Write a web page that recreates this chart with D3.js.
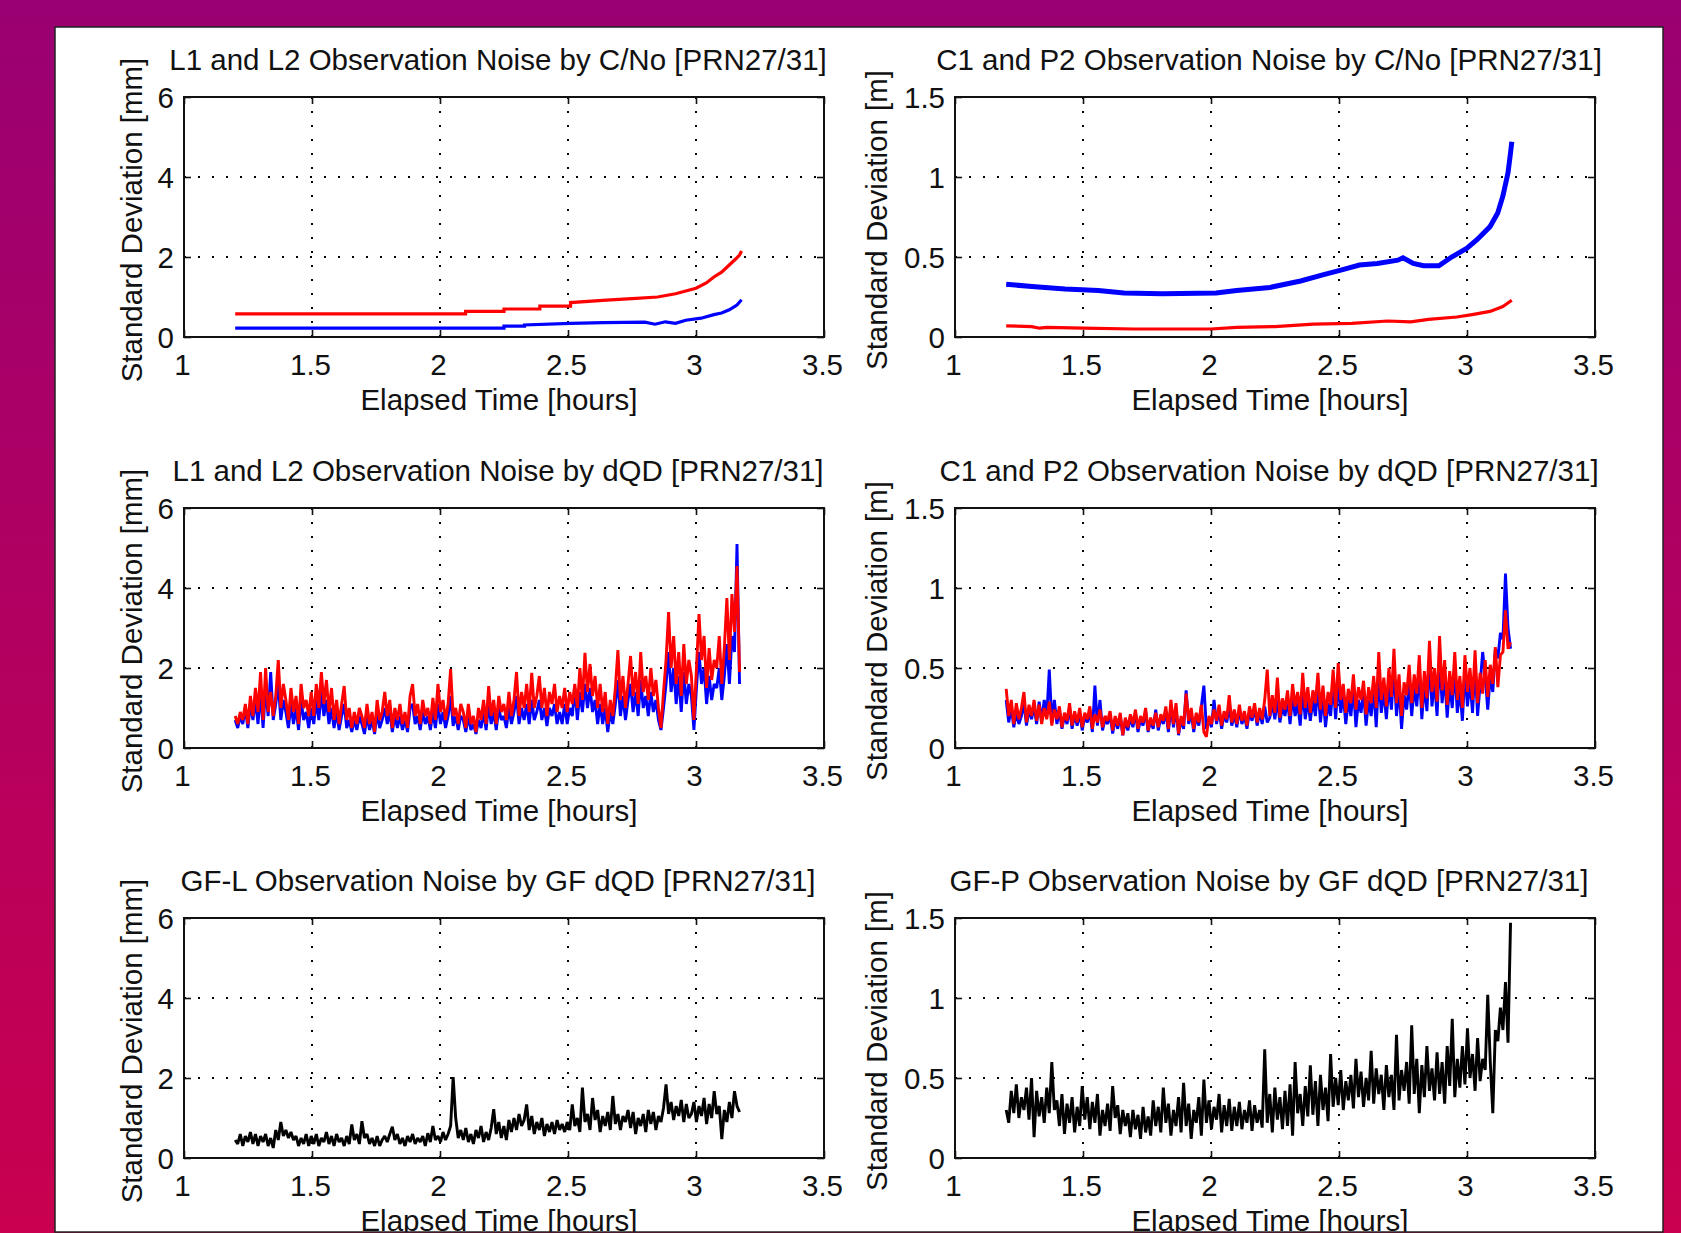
<!DOCTYPE html>
<html>
<head>
<meta charset="utf-8">
<script src="https://cdn.jsdelivr.net/npm/d3@7"></script>
<style>
  body { margin: 0; }
  svg { display: block; }
  text { font-family: "Liberation Sans", Arial, sans-serif; font-size: 29.5px; fill: #111; }
</style>
</head>
<body>
<div id="chart"></div>
<script>

// ---- tick values and labels
const xTicks = [1, 1.5, 2, 2.5, 3, 3.5];
const yTicksMm = [0, 2, 4, 6];
const yTicksM = [0, 0.5, 1, 1.5];
const xLabel = "Elapsed Time [hours]";
const yLabelMm = "Standard Deviation [mm]";
const yLabelM = "Standard Deviation [m]";
const titles = [
  "L1 and L2 Observation Noise by C/No [PRN27/31]",
  "C1 and P2 Observation Noise by C/No [PRN27/31]",
  "L1 and L2 Observation Noise by dQD [PRN27/31]",
  "C1 and P2 Observation Noise by dQD [PRN27/31]",
  "GF-L Observation Noise by GF dQD [PRN27/31]",
  "GF-P Observation Noise by GF dQD [PRN27/31]"
];

// ---- C/No panels (hours, value)
const cnoLRedT = [1.2, 2.1, 2.1, 2.25, 2.25, 2.39, 2.39, 2.51, 2.51, 2.65, 2.75, 2.85, 2.92, 2.96, 3.0, 3.04, 3.07, 3.1, 3.13, 3.155, 3.17, 3.178];
const cnoLRedV = [0.58, 0.58, 0.64, 0.64, 0.7, 0.7, 0.77, 0.77, 0.86, 0.92, 0.96, 1.0, 1.08, 1.15, 1.22, 1.35, 1.5, 1.62, 1.8, 1.95, 2.05, 2.15];
const cnoLBlueT = [1.2, 2.25, 2.25, 2.33, 2.33, 2.51, 2.64, 2.8, 2.84, 2.88, 2.92, 2.96, 3.02, 3.07, 3.1, 3.13, 3.16, 3.178];
const cnoLBlueV = [0.22, 0.22, 0.27, 0.27, 0.3, 0.34, 0.36, 0.37, 0.32, 0.38, 0.34, 0.42, 0.47, 0.56, 0.6, 0.68, 0.8, 0.93];

const cnoPBlueT = [1.2, 1.3, 1.43, 1.56, 1.66, 1.81, 2.02, 2.1, 2.23, 2.35, 2.44, 2.5, 2.58, 2.65, 2.73, 2.75, 2.79, 2.83, 2.89, 2.94, 3.0, 3.04, 3.09, 3.12, 3.14, 3.16, 3.17, 3.175];
const cnoPBlueV = [0.33, 0.315, 0.3, 0.29, 0.275, 0.27, 0.275, 0.29, 0.31, 0.35, 0.39, 0.415, 0.45, 0.46, 0.48, 0.495, 0.46, 0.445, 0.445, 0.5, 0.555, 0.61, 0.69, 0.775, 0.88, 1.025, 1.15, 1.22];
const cnoPRedT = [1.2, 1.3, 1.33, 1.36, 1.5, 1.7, 2.0, 2.1, 2.25, 2.4, 2.55, 2.69, 2.78, 2.85, 2.96, 3.02, 3.09, 3.14, 3.175];
const cnoPRedV = [0.07, 0.065, 0.055, 0.06, 0.055, 0.05, 0.05, 0.06, 0.065, 0.08, 0.085, 0.1, 0.095, 0.11, 0.125, 0.14, 0.16, 0.19, 0.23];

// ---- dQD panels: sampled every dqdStep hours from dqdStart
const dqdStart = 1.2, dqdStep = 0.0099;

const dqdLRed = [
  0.8,0.6,0.9,0.7,1.1,0.6,1.3,0.8,1.5,0.9,
  1.9,0.7,2.0,0.9,1.4,0.8,1.3,2.2,1.0,1.6,
  1.2,0.7,1.5,0.9,1.3,0.6,1.6,1.0,1.2,0.8,
  1.4,0.8,1.6,1.0,1.9,1.1,1.7,0.9,1.5,0.7,
  1.2,0.6,1.1,1.55,0.7,1.0,0.5,0.9,0.6,1.0,
  0.8,0.5,1.1,0.6,0.9,0.4,1.2,0.7,0.9,1.4,
  0.8,1.2,0.5,1.0,0.7,1.1,0.6,0.9,0.5,1.3,
  1.6,0.8,1.1,0.6,1.2,0.8,1.0,0.6,1.25,0.7,
  1.6,0.9,1.2,0.7,1.1,1.97,0.8,1.0,0.6,1.1,
  0.9,0.5,1.1,0.6,0.8,0.4,1.0,0.7,1.2,0.6,
  1.55,0.8,1.2,0.6,1.3,0.9,1.1,0.7,1.4,0.8,
  1.2,1.9,0.8,1.4,1.0,1.6,0.9,1.88,1.0,1.3,
  1.8,1.0,1.5,0.8,1.4,1.1,1.6,0.9,1.3,1.0,
  1.5,0.9,1.4,1.1,1.6,1.0,2.0,1.2,2.38,1.4,
  2.1,1.3,1.8,1.0,1.6,0.9,1.4,0.6,1.2,0.8,
  1.5,2.45,1.2,1.8,1.0,1.6,2.3,1.3,1.9,1.1,
  2.4,1.4,1.8,1.2,2.0,1.3,1.7,1.0,0.5,1.4,
  2.2,3.4,2.0,2.8,1.6,2.4,1.3,2.6,1.6,2.2,
  1.8,0.7,2.0,3.35,2.2,2.8,1.5,2.5,1.7,2.2,
  2.0,2.8,1.6,2.5,3.75,2.2,3.85,2.9,4.55,1.9
];
const dqdLBlue = [
  0.7,0.5,0.8,0.6,1.0,0.5,1.1,0.7,1.2,0.6,
  1.4,0.5,1.5,0.8,1.9,0.7,1.1,1.6,0.7,1.2,
  0.9,0.5,1.1,0.6,1.0,0.45,1.2,0.7,0.9,0.5,
  1.0,0.6,1.2,0.7,1.4,0.8,1.2,0.6,1.0,0.5,
  0.9,0.45,0.8,1.1,0.5,0.7,0.4,0.7,0.45,0.8,
  0.6,0.35,0.8,0.45,0.7,0.35,0.9,0.5,0.7,1.0,
  0.6,0.9,0.4,0.8,0.5,0.8,0.45,0.7,0.4,1.0,
  1.1,0.6,0.8,0.45,0.9,0.6,0.8,0.45,0.9,0.5,
  1.1,0.6,0.9,0.5,0.8,1.3,0.55,0.8,0.45,0.8,
  0.7,0.4,0.8,0.45,0.6,0.35,0.7,0.5,0.9,0.45,
  1.1,0.6,0.9,0.45,1.0,0.7,0.8,0.5,1.0,0.6,
  0.9,1.3,0.6,1.0,0.7,1.1,0.6,1.2,0.7,0.9,
  1.2,0.7,1.0,0.55,1.0,0.8,1.1,0.6,0.9,0.6,
  1.1,0.6,1.0,0.8,1.5,0.7,1.4,0.9,1.6,1.0,
  1.5,0.9,1.2,0.6,1.1,0.6,1.0,0.4,0.9,0.6,
  1.1,1.7,0.8,1.3,0.7,1.2,1.6,0.9,1.4,0.8,
  1.7,1.0,1.3,0.8,1.4,0.9,1.2,0.7,0.45,1.0,
  1.6,2.4,1.4,2.0,1.1,1.8,0.9,1.9,1.1,1.6,
  1.3,0.45,1.5,2.4,1.6,2.0,1.1,1.8,1.2,1.6,
  1.5,2.0,1.2,1.8,2.6,1.6,2.8,2.4,5.1,1.6
];

const dqdPRed = [
  0.37,0.2,0.3,0.15,0.28,0.18,0.25,0.35,0.16,0.27,
  0.2,0.3,0.17,0.27,0.15,0.25,0.18,0.29,0.14,0.24,
  0.18,0.26,0.13,0.22,0.17,0.28,0.14,0.23,0.16,0.25,
  0.13,0.22,0.18,0.26,0.12,0.21,0.16,0.24,0.13,0.2,
  0.17,0.23,0.11,0.2,0.14,0.22,0.08,0.19,0.13,0.21,
  0.15,0.24,0.12,0.2,0.16,0.25,0.11,0.19,0.14,0.22,
  0.13,0.21,0.17,0.26,0.12,0.3,0.15,0.28,0.09,0.2,
  0.14,0.34,0.17,0.25,0.12,0.22,0.16,0.27,0.1,0.07,
  0.2,0.15,0.24,0.17,0.27,0.14,0.23,0.18,0.33,0.16,
  0.24,0.15,0.27,0.17,0.23,0.14,0.26,0.19,0.28,0.16,
  0.25,0.18,0.3,0.49,0.2,0.33,0.22,0.44,0.19,0.31,
  0.24,0.36,0.2,0.4,0.26,0.35,0.21,0.47,0.25,0.38,
  0.22,0.36,0.28,0.47,0.24,0.39,0.2,0.35,0.27,0.49,
  0.25,0.53,0.3,0.4,0.22,0.37,0.28,0.46,0.24,0.38,
  0.3,0.42,0.21,0.38,0.28,0.45,0.25,0.6,0.3,0.44,
  0.26,0.5,0.32,0.62,0.28,0.46,0.2,0.41,0.33,0.52,
  0.28,0.46,0.34,0.58,0.25,0.48,0.31,0.67,0.35,0.5,
  0.29,0.7,0.36,0.55,0.27,0.48,0.33,0.6,0.3,0.45,
  0.25,0.58,0.35,0.5,0.3,0.61,0.28,0.47,0.34,0.55,
  0.32,0.52,0.4,0.63,0.38,0.58,0.6,0.86,0.62,0.66
];
const dqdPBlue = [
  0.3,0.16,0.25,0.13,0.22,0.15,0.2,0.28,0.14,0.24,
  0.18,0.26,0.15,0.29,0.17,0.3,0.2,0.49,0.16,0.3,
  0.15,0.23,0.12,0.2,0.15,0.25,0.12,0.21,0.14,0.22,
  0.11,0.2,0.16,0.23,0.1,0.39,0.14,0.3,0.11,0.18,
  0.15,0.21,0.09,0.18,0.12,0.2,0.08,0.17,0.11,0.19,
  0.13,0.22,0.1,0.18,0.14,0.23,0.1,0.17,0.12,0.24,
  0.11,0.19,0.15,0.23,0.1,0.26,0.13,0.25,0.08,0.18,
  0.12,0.36,0.15,0.22,0.1,0.2,0.14,0.26,0.39,0.12,
  0.18,0.13,0.3,0.15,0.24,0.12,0.21,0.16,0.26,0.14,
  0.21,0.13,0.24,0.15,0.2,0.12,0.23,0.17,0.25,0.14,
  0.22,0.15,0.26,0.16,0.19,0.28,0.18,0.3,0.16,0.26,
  0.2,0.3,0.15,0.32,0.2,0.28,0.14,0.36,0.18,0.3,
  0.17,0.3,0.2,0.38,0.16,0.32,0.13,0.28,0.2,0.4,
  0.18,0.42,0.22,0.33,0.15,0.3,0.2,0.38,0.13,0.3,
  0.22,0.35,0.14,0.3,0.2,0.37,0.13,0.45,0.22,0.36,
  0.18,0.4,0.24,0.5,0.2,0.38,0.12,0.33,0.24,0.42,
  0.2,0.38,0.26,0.48,0.18,0.4,0.23,0.55,0.26,0.42,
  0.2,0.56,0.28,0.45,0.19,0.4,0.25,0.5,0.22,0.37,
  0.17,0.48,0.26,0.42,0.22,0.52,0.2,0.4,0.6,0.45,
  0.24,0.45,0.35,0.62,0.56,0.72,0.68,1.09,0.75,0.62
];

const gfL = [
  0.45,0.35,0.6,0.3,0.55,0.4,0.65,0.35,0.6,0.3,
  0.55,0.4,0.6,0.3,0.5,0.25,0.7,0.45,0.9,0.55,
  0.7,0.5,0.65,0.45,0.55,0.3,0.5,0.35,0.6,0.3,
  0.55,0.35,0.6,0.3,0.5,0.4,0.65,0.35,0.55,0.3,
  0.6,0.4,0.5,0.3,0.55,0.35,0.84,0.45,0.6,0.35,
  0.92,0.5,0.6,0.35,0.5,0.3,0.55,0.3,0.45,0.55,
  0.4,0.6,0.78,0.45,0.6,0.35,0.5,0.3,0.55,0.4,
  0.6,0.35,0.5,0.4,0.55,0.3,0.62,0.4,0.8,0.45,
  0.55,0.4,0.65,0.45,0.6,0.8,2.02,1.0,0.5,0.7,
  0.45,0.75,0.4,0.6,0.35,0.7,0.5,0.8,0.4,0.65,
  0.45,0.75,1.22,0.6,0.9,0.5,0.8,0.45,0.95,0.65,
  1.0,0.7,1.1,0.8,0.95,1.34,0.7,1.05,0.6,0.9,
  0.7,1.0,0.55,0.85,0.65,0.9,0.6,0.95,0.7,0.85,
  0.65,0.9,0.7,1.34,0.8,1.0,0.65,1.76,0.9,1.1,
  0.7,1.5,0.95,1.2,0.65,1.05,0.8,1.15,0.7,1.55,
  0.85,1.1,0.7,1.05,0.9,1.2,0.75,1.15,0.6,1.0,
  0.8,1.1,0.65,1.2,0.85,1.15,0.7,1.05,0.9,1.25,
  1.84,1.1,1.4,0.95,1.3,1.05,1.45,0.9,1.35,1.0,
  1.1,1.4,0.9,1.3,1.05,1.5,0.85,1.35,1.0,1.67,
  1.1,1.3,0.47,1.2,0.9,1.4,1.0,1.67,1.3,1.15
];

const gfP = [
  0.3,0.22,0.42,0.28,0.46,0.25,0.38,0.3,0.44,0.24,
  0.5,0.13,0.42,0.26,0.38,0.22,0.44,0.28,0.6,0.3,
  0.36,0.2,0.4,0.15,0.34,0.22,0.38,0.16,0.32,0.2,
  0.45,0.24,0.38,0.18,0.35,0.22,0.4,0.14,0.3,0.2,
  0.34,0.17,0.45,0.25,0.33,0.15,0.3,0.2,0.28,0.13,
  0.3,0.18,0.27,0.12,0.32,0.16,0.26,0.14,0.36,0.2,
  0.32,0.16,0.44,0.22,0.34,0.14,0.3,0.2,0.38,0.16,
  0.47,0.2,0.34,0.12,0.3,0.22,0.38,0.14,0.49,0.22,
  0.36,0.18,0.32,0.24,0.4,0.16,0.33,0.2,0.37,0.17,
  0.32,0.2,0.35,0.18,0.3,0.22,0.36,0.17,0.33,0.22,
  0.3,0.19,0.68,0.22,0.4,0.16,0.44,0.24,0.38,0.18,
  0.42,0.2,0.46,0.14,0.6,0.28,0.4,0.2,0.45,0.26,
  0.58,0.27,0.48,0.2,0.52,0.3,0.44,0.23,0.65,0.32,
  0.5,0.33,0.55,0.3,0.48,0.36,0.52,0.31,0.62,0.38,
  0.54,0.32,0.5,0.36,0.67,0.34,0.56,0.4,0.52,0.3,
  0.58,0.38,0.52,0.3,0.77,0.36,0.55,0.42,0.6,0.34,
  0.83,0.4,0.62,0.28,0.58,0.38,0.7,0.42,0.56,0.36,
  0.66,0.4,0.6,0.34,0.7,0.45,0.87,0.38,0.62,0.44,
  0.7,0.46,0.81,0.5,0.65,0.42,0.75,0.48,0.62,0.55,
  1.02,0.6,0.28,0.8,0.73,0.94,0.8,1.1,0.72,1.47
];

const dqdHours = vals => vals.map((d, i) => dqdStart + i * dqdStep);

const RED = "#ff0000", BLUE = "#0000ff", BLACK = "#000000";

const panels = [
  { yMax: 6, yTicks: yTicksMm, yLabel: yLabelMm, series: [
      { t: cnoLRedT, v: cnoLRedV, color: RED, w: 3.2 },
      { t: cnoLBlueT, v: cnoLBlueV, color: BLUE, w: 3.2 } ] },
  { yMax: 1.5, yTicks: yTicksM, yLabel: yLabelM, series: [
      { t: cnoPBlueT, v: cnoPBlueV, color: BLUE, w: 5 },
      { t: cnoPRedT, v: cnoPRedV, color: RED, w: 3.2 } ] },
  { yMax: 6, yTicks: yTicksMm, yLabel: yLabelMm, series: [
      { t: dqdHours(dqdLBlue), v: dqdLBlue, color: BLUE, w: 2.9 },
      { t: dqdHours(dqdLRed), v: dqdLRed, color: RED, w: 2.9 } ] },
  { yMax: 1.5, yTicks: yTicksM, yLabel: yLabelM, series: [
      { t: dqdHours(dqdPBlue), v: dqdPBlue, color: BLUE, w: 2.9 },
      { t: dqdHours(dqdPRed), v: dqdPRed, color: RED, w: 2.9 } ] },
  { yMax: 6, yTicks: yTicksMm, yLabel: yLabelMm, series: [
      { t: dqdHours(gfL), v: gfL, color: BLACK, w: 2.9 } ] },
  { yMax: 1.5, yTicks: yTicksM, yLabel: yLabelM, series: [
      { t: dqdHours(gfP), v: gfP, color: BLACK, w: 2.9 } ] }
];

// ---- layout
const W = 1681, H = 1233;
const colLeft = [184, 955];
const rowTop = [97, 508, 918];
const plotW = 640, plotH = 240;

const svg = d3.select("#chart").append("svg")
  .attr("width", W)
  .attr("height", H);

const defs = svg.append("defs");
const grad = defs.append("linearGradient")
  .attr("id", "bg").attr("x1", 0).attr("y1", 0).attr("x2", 0).attr("y2", 1);
grad.append("stop").attr("offset", "0%").attr("stop-color", "#9a0072");
grad.append("stop").attr("offset", "100%").attr("stop-color", "#c9004f");

defs.append("clipPath").attr("id", "sheetClip")
  .append("rect").attr("x", 55).attr("y", 27).attr("width", 1608).attr("height", 1205);

svg.append("rect").attr("width", W).attr("height", H).attr("fill", "url(#bg)");

const sheet = svg.append("g").attr("clip-path", "url(#sheetClip)");
sheet.append("rect")
  .attr("x", 55).attr("y", 27).attr("width", 1608).attr("height", 1205)
  .attr("fill", "#fff");

panels.forEach((p, i) => {
  const col = i % 2, row = Math.floor(i / 2);
  const left = colLeft[col], top = rowTop[row];

  const x = d3.scaleLinear().domain([1, 3.5]).range([left, left + plotW]);
  const y = d3.scaleLinear().domain([0, p.yMax]).range([top + plotH, top]);

  const g = sheet.append("g");

  // dotted grid
  g.append("g").selectAll("line")
    .data(xTicks.slice(1, -1))
    .join("line")
      .attr("x1", d => x(d)).attr("x2", d => x(d))
      .attr("y1", top + plotH).attr("y2", top)
      .attr("stroke", "#000").attr("stroke-width", 2)
      .attr("stroke-dasharray", "2,12");
  g.append("g").selectAll("line")
    .data(p.yTicks.slice(1, -1))
    .join("line")
      .attr("x1", left).attr("x2", left + plotW)
      .attr("y1", d => y(d)).attr("y2", d => y(d))
      .attr("stroke", "#000").attr("stroke-width", 2)
      .attr("stroke-dasharray", "2,12");

  // series
  p.series.forEach(s => {
    const line = d3.line()
      .x((d, k) => x(s.t[k]))
      .y(d => y(d));
    g.append("path")
      .datum(s.v)
      .attr("d", line)
      .attr("fill", "none")
      .attr("stroke", s.color)
      .attr("stroke-width", s.w)
      .attr("stroke-linejoin", "miter")
      .attr("stroke-miterlimit", 2);
  });

  // box
  g.append("rect")
    .attr("x", left).attr("y", top)
    .attr("width", plotW).attr("height", plotH)
    .attr("fill", "none").attr("stroke", "#111").attr("stroke-width", 2);

  // axes (ticks inside, matlab style)
  const noDomain = a => a.select(".domain").remove();

  g.append("g")
    .attr("transform", `translate(0,${top + plotH})`)
    .attr("color", "#111")
    .call(d3.axisBottom(x).tickValues(xTicks).tickSize(-7).tickPadding(17).tickFormat(d => d))
    .call(noDomain)
    .call(a => a.selectAll("text").attr("dx", -2));

  g.append("g")
    .attr("transform", `translate(0,${top})`)
    .attr("color", "#111")
    .call(d3.axisTop(x).tickValues(xTicks).tickSize(-7).tickFormat(""))
    .call(noDomain);

  g.append("g")
    .attr("transform", `translate(${left},0)`)
    .attr("color", "#111")
    .call(d3.axisLeft(y).tickValues(p.yTicks).tickSize(-7).tickPadding(10).tickFormat(d => d))
    .call(noDomain)
    .call(a => a.selectAll("text").attr("dy", "0.36em"));

  g.append("g")
    .attr("transform", `translate(${left + plotW},0)`)
    .attr("color", "#111")
    .call(d3.axisRight(y).tickValues(p.yTicks).tickSize(-7).tickFormat(""))
    .call(noDomain);

  g.selectAll(".tick line").attr("stroke-width", 1.6);

  // labels
  g.append("text")
    .attr("x", left + plotW / 2 - 6)
    .attr("y", top - 27)
    .attr("text-anchor", "middle")
    .text(titles[i]);

  g.append("text")
    .attr("x", left + plotW / 2 - 5)
    .attr("y", top + plotH + 73)
    .attr("text-anchor", "middle")
    .text(xLabel);

  const yGap = p.yMax > 2 ? 42 : 68;
  g.append("text")
    .attr("transform", `translate(${left - yGap},${top + plotH / 2 + 3}) rotate(-90)`)
    .attr("text-anchor", "middle")
    .text(p.yLabel);
});

// sheet border
svg.append("rect")
  .attr("x", 55).attr("y", 27).attr("width", 1608).attr("height", 1205)
  .attr("fill", "none").attr("stroke", "#222").attr("stroke-width", 1.5);

</script>
</body>
</html>
